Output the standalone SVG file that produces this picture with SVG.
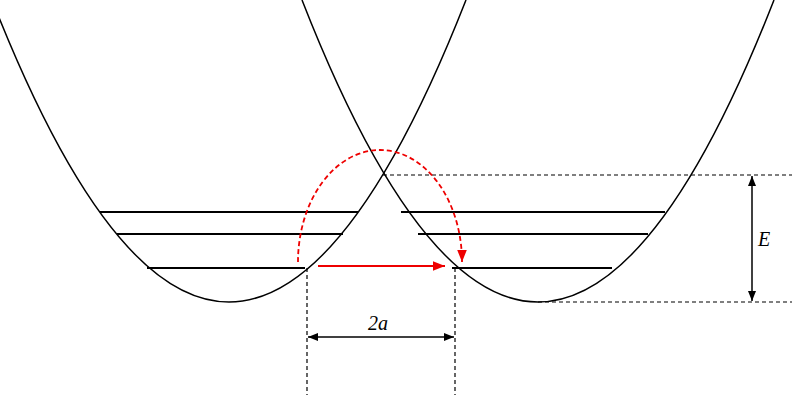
<svg xmlns="http://www.w3.org/2000/svg" width="800" height="400" viewBox="0 0 800 400">
<style>
.c{fill:none;stroke:#000;stroke-width:1.5}
.l{stroke:#000;stroke-width:2}
.d{stroke:#000;stroke-width:1.2;stroke-dasharray:4,3;fill:none}
.t{font-family:"Liberation Serif",serif;font-style:italic;font-size:20px}
</style>
<defs>
<marker id="ak" viewBox="0 0 10 10" refX="10" refY="5" markerWidth="10" markerHeight="10" markerUnits="userSpaceOnUse" orient="auto-start-reverse"><path d="M0,1 L10,5 L0,9 Z" fill="#000"/></marker>
<marker id="ar" viewBox="0 0 10 10" refX="10" refY="5" markerWidth="12" markerHeight="12" markerUnits="userSpaceOnUse" orient="auto"><path d="M0,1 L10,5 L0,9 Z" fill="#e00"/></marker>
</defs>
<rect width="800" height="400" fill="#fff"/>
<g id="wellL"><path class="c" d="M-8,0 Q229,604 466,0"/>
<line class="l" x1="100" y1="212" x2="358" y2="212"/><line class="l" x1="117" y1="234" x2="343" y2="234"/><line class="l" x1="147" y1="268" x2="305" y2="268"/></g>
<g id="wellR"><path class="c" d="M302,0 Q538,604 774,0"/>
<line class="l" x1="401" y1="212" x2="665" y2="212"/><line class="l" x1="418" y1="234" x2="648" y2="234"/><line class="l" x1="452" y1="268" x2="612" y2="268"/></g>
<g id="connectors">
<line class="d" x1="383" y1="175" x2="792" y2="175"/>
<line class="d" x1="538" y1="302" x2="792" y2="302"/>
<line class="d" x1="307" y1="268" x2="307" y2="395"/>
<line class="d" x1="455" y1="268" x2="455" y2="395"/>
<line stroke="#000" stroke-width="1.5" x1="752" y1="176" x2="752" y2="301" marker-start="url(#ak)" marker-end="url(#ak)"/>
<line stroke="#000" stroke-width="1.5" x1="308" y1="337" x2="454" y2="337" marker-start="url(#ak)" marker-end="url(#ak)"/>
<line stroke="#e00" stroke-width="2" x1="318" y1="266" x2="445" y2="266" marker-end="url(#ar)"/>
<path d="M298,262 A82,112 0 0 1 462,262" stroke="#e00" stroke-width="1.8" fill="none" style="stroke-dasharray:5,3" marker-end="url(#ar)"/>
</g>
<text class="t" x="758" y="246">E</text>
<text class="t" x="368" y="330">2a</text>
</svg>
